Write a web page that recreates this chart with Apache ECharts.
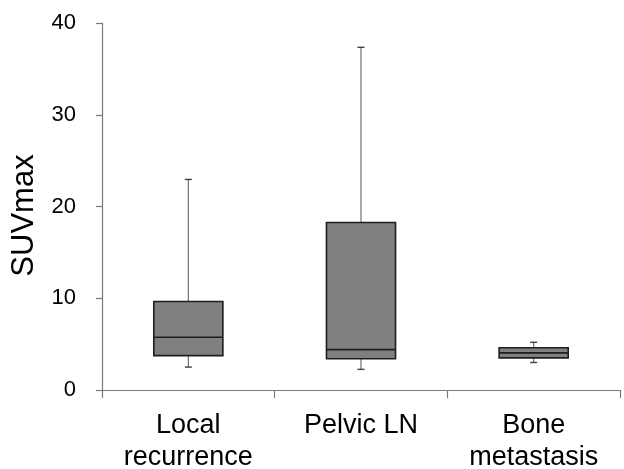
<!DOCTYPE html>
<html>
<head>
<meta charset="utf-8">
<script src="https://cdn.jsdelivr.net/npm/echarts@6/dist/echarts.min.js"></script>
<style>html,body{margin:0;padding:0;background:#fff;}#c{width:624px;height:469px;}</style>
</head>
<body>
<div id="c"></div>
<script>
var categories = ['Local\nrecurrence', 'Pelvic LN', 'Bone\nmetastasis'];
var whiskerLow = [2.5, 2.25, 3.0];
var q1 = [3.75, 3.4, 3.5];
var median = [5.75, 4.4, 4.05];
var q3 = [9.65, 18.25, 4.6];
var whiskerHigh = [22.95, 37.35, 5.2];
var yTicks = [0, 10, 20, 30, 40];

var data = categories.map(function (c, i) {
  return [i, whiskerLow[i], q1[i], median[i], q3[i], whiskerHigh[i]];
});

var chart = echarts.init(document.getElementById('c'), null, {renderer: 'canvas'});
var FONT = '"Liberation Sans", Arial, Helvetica, sans-serif';

function renderItem(params, api) {
  var x = api.value(0);
  var lo = api.coord([x, api.value(1)]);
  var b1 = api.coord([x, api.value(2)]);
  var md = api.coord([x, api.value(3)]);
  var b3 = api.coord([x, api.value(4)]);
  var hi = api.coord([x, api.value(5)]);
  var bw = api.size([1, 0])[0] * 0.4;
  var cx = lo[0];
  var cap = 3.5;
  var wStyle = {stroke: '#707070', lineWidth: 1.2};
  var bStyle = {stroke: '#1e1e1e', lineWidth: 1.6};
  return {
    type: 'group',
    children: [
      {type: 'line', shape: {x1: cx, y1: b3[1], x2: cx, y2: hi[1]}, style: wStyle},
      {type: 'line', shape: {x1: cx - cap, y1: hi[1], x2: cx + cap, y2: hi[1]}, style: {stroke: '#404040', lineWidth: 1.4}},
      {type: 'line', shape: {x1: cx, y1: b1[1], x2: cx, y2: lo[1]}, style: wStyle},
      {type: 'line', shape: {x1: cx - cap, y1: lo[1], x2: cx + cap, y2: lo[1]}, style: {stroke: '#404040', lineWidth: 1.4}},
      {type: 'rect', shape: {x: cx - bw / 2, y: b3[1], width: bw, height: b1[1] - b3[1]},
        style: {fill: '#808080', stroke: '#1e1e1e', lineWidth: 1.6}},
      {type: 'line', shape: {x1: cx - bw / 2, y1: md[1], x2: cx + bw / 2, y2: md[1]}, style: bStyle}
    ]
  };
}

chart.setOption({
  animation: false,
  backgroundColor: '#ffffff',
  grid: {left: 102, right: 4, top: 23, bottom: 79, containLabel: false, outerBoundsMode: 'none'},
  xAxis: {
    type: 'category',
    data: categories,
    boundaryGap: true,
    axisLine: {show: true, lineStyle: {color: '#7a7a7a', width: 1.2}},
    axisTick: {show: true, length: 8, lineStyle: {color: '#7a7a7a', width: 1.2}},
    axisLabel: {color: '#000', fontSize: 27, fontFamily: FONT, lineHeight: 32, margin: 20, interval: 0},
    splitLine: {show: false}
  },
  yAxis: {
    type: 'value',
    min: yTicks[0],
    max: yTicks[yTicks.length - 1],
    interval: 10,
    name: 'SUVmax',
    nameLocation: 'middle',
    nameGap: 62,
    nameRotate: 90,
    nameTextStyle: {color: '#000', fontSize: 31, fontFamily: FONT, padding: [0, 18, 0, 0]},
    axisLine: {show: true, lineStyle: {color: '#7a7a7a', width: 1.2}},
    axisTick: {show: true, length: 6, lineStyle: {color: '#7a7a7a', width: 1.2}},
    axisLabel: {color: '#000', fontSize: 22, fontFamily: FONT, margin: 26},
    splitLine: {show: false}
  },
  series: [{
    type: 'custom',
    renderItem: renderItem,
    data: data,
    encode: {x: 0, y: [1, 2, 3, 4, 5]},
    clip: false
  }]
});
</script>
</body>
</html>
